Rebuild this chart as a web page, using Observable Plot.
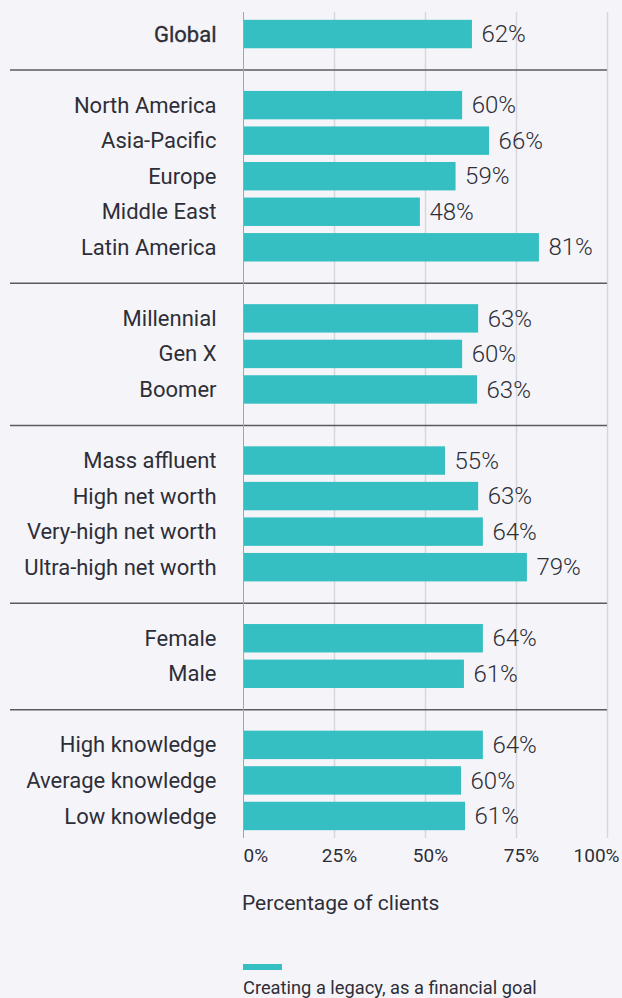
<!DOCTYPE html>
<html><head><meta charset="utf-8">
<script src="https://cdn.jsdelivr.net/npm/d3@7"></script>
<script src="https://cdn.jsdelivr.net/npm/@observablehq/plot@0.6"></script>
<style>
html,body{margin:0;padding:0;background:#f5f5f9;}
body{font-family:Roboto,sans-serif;color:#2e2e38;width:622px;height:998px;overflow:hidden;position:relative}
#chart svg{display:block}
.xlabel{position:absolute;left:242px;top:889px;font-size:21px;line-height:28px;white-space:nowrap}
.swatch{position:absolute;left:243px;top:964px;width:39px;height:6px;background:#35bfc2}
.ltext{position:absolute;left:243px;top:976px;font-size:18.3px;line-height:24px;white-space:nowrap}
</style>
</head><body>
<div id="chart"></div>
<div class="xlabel">Percentage of clients</div>
<div class="swatch"></div>
<div class="ltext">Creating a legacy, as a financial goal</div>
<script>
const groupGlobal = ["Global"];
const groupRegion = ["North America", "Asia-Pacific", "Europe", "Middle East", "Latin America"];
const groupGeneration = ["Millennial", "Gen X", "Boomer"];
const groupWealth = ["Mass affluent", "High net worth", "Very-high net worth", "Ultra-high net worth"];
const groupGender = ["Female", "Male"];
const groupKnowledge = ["High knowledge", "Average knowledge", "Low knowledge"];

// bar lengths as drawn in the picture (percent)
const barsGlobal = [62.9];
const barsRegion = [60.2, 67.6, 58.4, 48.6, 81.3];
const barsGeneration = [64.6, 60.2, 64.3];
const barsWealth = [55.5, 64.6, 65.9, 78.0];
const barsGender = [65.9, 60.7];
const barsKnowledge = [65.9, 59.9, 61.0];

// printed value labels (percent)
const labelsGlobal = [62];
const labelsRegion = [60, 66, 59, 48, 81];
const labelsGeneration = [63, 60, 63];
const labelsWealth = [55, 63, 64, 79];
const labelsGender = [64, 61];
const labelsKnowledge = [64, 60, 61];

const xTicks = [0, 25, 50, 75, 100];

const groups = [
  [groupGlobal, barsGlobal, labelsGlobal],
  [groupRegion, barsRegion, labelsRegion],
  [groupGeneration, barsGeneration, labelsGeneration],
  [groupWealth, barsWealth, labelsWealth],
  [groupGender, barsGender, labelsGender],
  [groupKnowledge, barsKnowledge, labelsKnowledge]
];

const data = [];
const domain = [];
const spacers = [];
groups.forEach(([cats, bars, labels], gi) => {
  if (gi > 0) { const s = "sep" + gi; spacers.push(s); domain.push(s); }
  cats.forEach((c, i) => { domain.push(c); data.push({cat: c, value: bars[i], label: labels[i]}); });
});

const teal = "#35bfc2";
const ink = "#2e2e38";

const chart = Plot.plot({
  width: 622,
  height: 880,
  marginLeft: 243,
  marginRight: 15,
  marginTop: 12,
  marginBottom: 42,
  style: {background: "transparent", fontFamily: "Roboto, sans-serif"},
  x: {domain: [0, 100], axis: null},
  y: {domain, axis: null, paddingInner: 0.2, paddingOuter: 0.22, round: false},
  marks: [
    Plot.ruleX(xTicks.filter(d => d > 0), {x: d => d, stroke: "#d6d6de", strokeWidth: 1.5}),
    Plot.ruleY(spacers, {y: d => d, insetLeft: -233, stroke: "#5a5a62", strokeWidth: 1.5}),
    Plot.barX(data, {y: "cat", x: "value", fill: teal}),
    Plot.ruleX([0], {stroke: "#a4a4ac", strokeWidth: 1}),
    Plot.text(data, {y: "cat", x: "value", text: d => d.label + "%", textAnchor: "start", dx: 9, fontSize: 24, fontWeight: 300, fill: ink}),
    Plot.text(data, {filter: d => d.cat !== "Global", y: "cat", x: 0, text: "cat", textAnchor: "end", dx: -27, fontSize: 22, fill: ink}),
    Plot.text(data, {filter: d => d.cat === "Global", y: "cat", x: 0, text: "cat", textAnchor: "end", dx: -27, fontSize: 22, fill: ink, stroke: ink, strokeWidth: 0.35}),
    Plot.text(xTicks.filter(d => d === 0), {x: d => d, frameAnchor: "bottom", dy: 23, text: d => d + "%", textAnchor: "start", fontSize: 19, fill: ink}),
    Plot.text(xTicks.filter(d => d > 0 && d < 100), {x: d => d, frameAnchor: "bottom", dy: 23, dx: 5, text: d => d + "%", textAnchor: "middle", fontSize: 19, fill: ink}),
    Plot.text(xTicks.filter(d => d === 100), {x: d => d, frameAnchor: "bottom", dy: 23, dx: 12, text: d => d + "%", textAnchor: "end", fontSize: 19, fill: ink})
  ]
});
document.getElementById("chart").appendChild(chart);
</script>
</body></html>
